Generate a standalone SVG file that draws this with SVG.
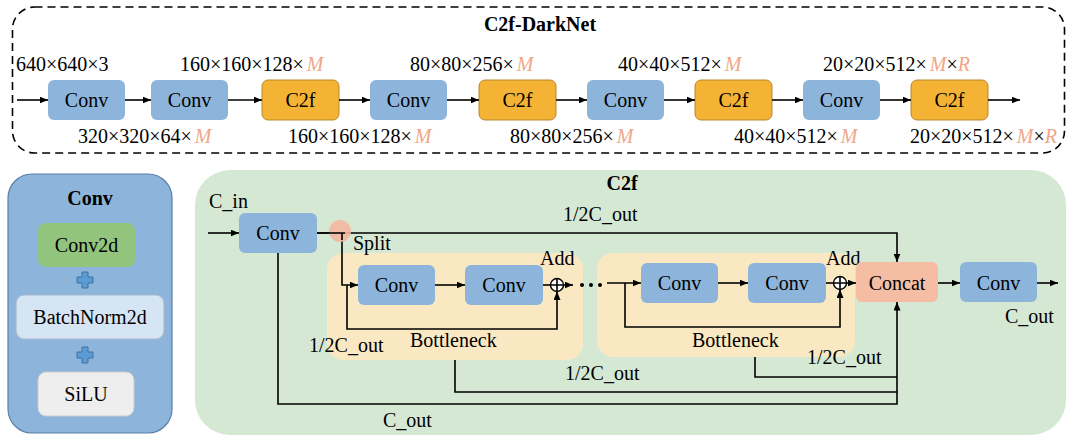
<svg xmlns="http://www.w3.org/2000/svg" width="1067" height="436" viewBox="0 0 1067 436">
<defs>
<marker id="ah" markerWidth="9" markerHeight="8" refX="8.5" refY="3.5" orient="auto" markerUnits="userSpaceOnUse">
<path d="M0,0 L8.5,3.5 L0,7 z" fill="#000"/>
</marker>
<style>
text{font-family:"Liberation Serif","Times New Roman",serif;font-size:20px;fill:#000}
.b{font-weight:bold}
.c{text-anchor:middle}
.m{font-style:italic;fill:#F2A685}
.conv{fill:#8DB5DB}
.c2f{fill:#F4B334;stroke:#B8892E;stroke-width:1}
.ln{fill:none;stroke:#000;stroke-width:1.6}
.ar{fill:none;stroke:#000;stroke-width:1.6;marker-end:url(#ah)}
.bn{fill:#FAE8C2}
.plus{fill:#5B9BD5;stroke:#41719C;stroke-width:1}
</style>
</defs>

<g id="darknet">
<rect x="12.5" y="7" width="1052" height="146" rx="22" fill="none" stroke="#000" stroke-width="1.6" stroke-dasharray="8,5"/>
<text class="b c" x="540" y="31">C2f-DarkNet</text>
</g>

<g id="dn-labels">
<text x="16" y="71">640×640×3</text>
<text x="180" y="71">160×160×128×<tspan class="m" dx="3">M</tspan></text>
<text x="410" y="71">80×80×256×<tspan class="m" dx="3">M</tspan></text>
<text x="618" y="71">40×40×512×<tspan class="m" dx="3">M</tspan></text>
<text x="823" y="71">20×20×512×<tspan class="m" dx="3">M</tspan>×<tspan class="m">R</tspan></text>
<text x="78" y="143">320×320×64×<tspan class="m" dx="3">M</tspan></text>
<text x="288" y="143">160×160×128×<tspan class="m" dx="3">M</tspan></text>
<text x="510" y="143">80×80×256×<tspan class="m" dx="3">M</tspan></text>
<text x="734" y="143">40×40×512×<tspan class="m" dx="3">M</tspan></text>
<text x="910" y="143">20×20×512×<tspan class="m" dx="3">M</tspan>×<tspan class="m">R</tspan></text>
</g>

<g id="dn-conv1"><rect class="conv" x="48" y="80" width="77" height="40" rx="6"/><text class="c" x="86.5" y="107">Conv</text></g>
<g id="dn-conv2"><rect class="conv" x="151" y="80" width="77" height="40" rx="6"/><text class="c" x="189.5" y="107">Conv</text></g>
<g id="dn-c2f1"><rect class="c2f" x="262" y="80" width="77" height="40" rx="6"/><text class="c" x="300.5" y="107">C2f</text></g>
<g id="dn-conv3"><rect class="conv" x="370" y="80" width="77" height="40" rx="6"/><text class="c" x="408.5" y="107">Conv</text></g>
<g id="dn-c2f2"><rect class="c2f" x="479" y="80" width="77" height="40" rx="6"/><text class="c" x="517.5" y="107">C2f</text></g>
<g id="dn-conv4"><rect class="conv" x="587" y="80" width="77" height="40" rx="6"/><text class="c" x="625.5" y="107">Conv</text></g>
<g id="dn-c2f3"><rect class="c2f" x="695" y="80" width="77" height="40" rx="6"/><text class="c" x="733.5" y="107">C2f</text></g>
<g id="dn-conv5"><rect class="conv" x="803" y="80" width="77" height="40" rx="6"/><text class="c" x="841.5" y="107">Conv</text></g>
<g id="dn-c2f4"><rect class="c2f" x="911" y="80" width="77" height="40" rx="6"/><text class="c" x="949.5" y="107">C2f</text></g>

<g id="dn-connectors">
<line class="ar" x1="17" y1="100" x2="48" y2="100"/>
<line class="ar" x1="125" y1="100" x2="151" y2="100"/>
<line class="ar" x1="228" y1="100" x2="262" y2="100"/>
<line class="ar" x1="339" y1="100" x2="370" y2="100"/>
<line class="ar" x1="447" y1="100" x2="479" y2="100"/>
<line class="ar" x1="556" y1="100" x2="587" y2="100"/>
<line class="ar" x1="664" y1="100" x2="695" y2="100"/>
<line class="ar" x1="772" y1="100" x2="803" y2="100"/>
<line class="ar" x1="880" y1="100" x2="911" y2="100"/>
<line class="ar" x1="988" y1="100" x2="1020" y2="100"/>
</g>

<g id="conv-panel">
<rect x="8" y="174" width="164" height="259" rx="24" fill="#8DB4DA" stroke="#5A7FA8" stroke-width="1.2"/>
<text class="b c" x="90" y="205">Conv</text>
</g>
<g id="conv2d"><rect x="38" y="223" width="97" height="44" rx="8" fill="#93C47D"/><text class="c" x="86.5" y="252">Conv2d</text></g>
<g id="plus1"><path class="plus" d="M82,272 h6 v5 h5 v6 h-5 v5 h-6 v-5 h-5 v-6 h5 z"/></g>
<g id="batchnorm"><rect x="16" y="295" width="148" height="44" rx="8" fill="#D6E5F3" stroke="#A9B9CB" stroke-width="1.2"/><text class="c" x="90" y="324">BatchNorm2d</text></g>
<g id="plus2"><path class="plus" d="M82,347 h6 v5 h5 v6 h-5 v5 h-6 v-5 h-5 v-6 h5 z"/></g>
<g id="silu"><rect x="38" y="372" width="96" height="44" rx="8" fill="#EEEEEE" stroke="#CCCCCC" stroke-width="1"/><text class="c" x="86" y="401">SiLU</text></g>

<g id="c2f-panel">
<rect x="195" y="170" width="871" height="265" rx="35" fill="#D5E8D4"/>
<text class="b c" x="622" y="190">C2f</text>
</g>
<g id="bottleneck1"><rect class="bn" x="327" y="253" width="256" height="107" rx="16"/><text x="410" y="347">Bottleneck</text></g>
<g id="bottleneck2"><rect class="bn" x="597" y="253" width="258" height="104" rx="16"/><text x="692" y="347">Bottleneck</text></g>

<g id="c2f-connectors">
<line class="ar" x1="208" y1="233" x2="239" y2="233"/>
<path class="ar" d="M317,233 H897 V262"/>
<path class="ar" d="M342,233 V285 H358"/>
<line class="ar" x1="435" y1="285" x2="465" y2="285"/>
<line class="ln" x1="543" y1="285" x2="550.5" y2="285"/>
<line class="ar" x1="563.5" y1="285" x2="573" y2="285"/>
<path class="ar" d="M347,285 V329 H557 V291.5"/>
<path class="ln" d="M455,360 V392 H897"/>
<path class="ar" d="M278,253 V404 H897 V302"/>
<path class="ar" d="M607,283 H641"/>
<line class="ar" x1="718" y1="283" x2="748" y2="283"/>
<line class="ln" x1="826" y1="283" x2="833.5" y2="283"/>
<line class="ar" x1="846.5" y1="283" x2="856" y2="283"/>
<path class="ar" d="M625,283 V327 H840 V289.5"/>
<path class="ln" d="M755,357 V377 H897"/>
<line class="ar" x1="938" y1="283" x2="960" y2="283"/>
<line class="ar" x1="1037" y1="283" x2="1058" y2="283"/>
<circle cx="582" cy="285" r="2" fill="#000"/>
<circle cx="591" cy="285" r="2" fill="#000"/>
<circle cx="600" cy="285" r="2" fill="#000"/>
</g>

<g id="split"><circle cx="340" cy="231" r="11" fill="#F4B6A0" opacity="0.9"/><path class="ln" d="M317,233 H345 M342,233 V240"/><text x="353" y="250">Split</text></g>

<g id="c2f-conv-in"><rect class="conv" x="239" y="213" width="78" height="40" rx="6"/><text class="c" x="278" y="240">Conv</text></g>
<g id="b1-conv-a"><rect class="conv" x="358" y="265" width="77" height="40" rx="6"/><text class="c" x="396.5" y="292">Conv</text></g>
<g id="b1-conv-b"><rect class="conv" x="465" y="265" width="78" height="40" rx="6"/><text class="c" x="504" y="292">Conv</text></g>
<g id="add1"><circle cx="557" cy="285" r="6.5" fill="#fff" stroke="#000" stroke-width="1.4"/><path class="ln" d="M550.5,285 H563.5 M557,278.5 V291.5" stroke-width="1.2"/><text x="540" y="265">Add</text></g>
<g id="b2-conv-a"><rect class="conv" x="641" y="263" width="77" height="40" rx="6"/><text class="c" x="679.5" y="290">Conv</text></g>
<g id="b2-conv-b"><rect class="conv" x="748" y="263" width="78" height="40" rx="6"/><text class="c" x="787" y="290">Conv</text></g>
<g id="add2"><circle cx="840" cy="283" r="6.5" fill="#fff" stroke="#000" stroke-width="1.4"/><path class="ln" d="M833.5,283 H846.5 M840,276.5 V289.5" stroke-width="1.2"/><text x="826" y="265">Add</text></g>
<g id="concat"><rect x="856" y="262" width="82" height="40" rx="6" fill="#F4BDA4"/><text class="c" x="897" y="290">Concat</text></g>
<g id="c2f-conv-out"><rect class="conv" x="960" y="262" width="77" height="40" rx="6"/><text class="c" x="998.5" y="290">Conv</text></g>

<g id="c2f-labels">
<text x="209" y="208">C_in</text>
<text x="563" y="221">1/2C_out</text>
<text x="309" y="352">1/2C_out</text>
<text x="565" y="380">1/2C_out</text>
<text x="807" y="364">1/2C_out</text>
<text x="383" y="427">C_out</text>
<text x="1005" y="323">C_out</text>
</g>
</svg>
